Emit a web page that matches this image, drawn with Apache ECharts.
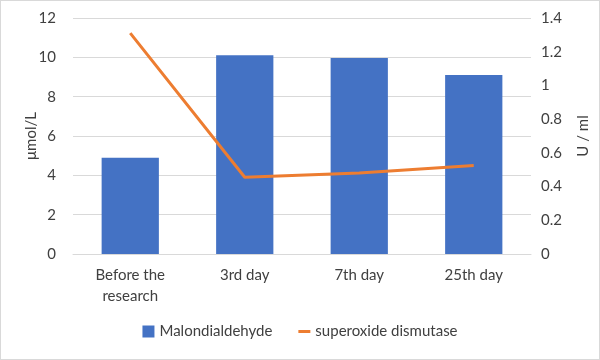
<!DOCTYPE html>
<html><head><meta charset="utf-8">
<script src="https://cdn.jsdelivr.net/npm/echarts@6/dist/echarts.min.js"></script>
<style>html,body{margin:0;padding:0;background:#fff}#c{width:598px;height:358px;border:1px solid #d9d9d9}</style>
</head><body><div id="c"></div>
<script>
var categories = ['Before the\nresearch', '3rd day', '7th day', '25th day'];
var malondialdehyde = [4.9, 10.1, 9.97, 9.1];
var superoxideDismutase = [1.31, 0.455, 0.48, 0.525];
var leftTicks = [0, 2, 4, 6, 8, 10, 12];
var rightTicks = [0, 0.2, 0.4, 0.6, 0.8, 1, 1.2, 1.4];
var font = 'Lato, "Open Sans", sans-serif';
var fs = 15;
var chart = echarts.init(document.getElementById('c'));
chart.setOption({
  animation: false,
  textStyle: {fontFamily: font},
  legend: {
    bottom: 15, itemGap: 26, itemWidth: 12, itemHeight: 12,
    textStyle: {fontSize: fs, color: '#404040', fontFamily: font},
    data: [{name: 'Malondialdehyde', icon: 'rect'},
           {name: 'superoxide dismutase', icon: 'path://M0,0h12v3h-12z'}]
  },
  grid: {left: 72, right: 68, top: 17, bottom: 105},
  xAxis: {
    type: 'category', data: categories,
    axisLine: {lineStyle: {color: '#d9d9d9'}}, axisTick: {show: false},
    axisLabel: {fontSize: fs, color: '#404040', margin: 11, lineHeight: 21, fontFamily: font}
  },
  yAxis: [{
    type: 'value', min: 0, max: 12, interval: 2,
    name: 'μmol/L', nameLocation: 'middle', nameGap: 34, nameRotate: 90, nameMoveOverlap: false,
    nameTextStyle: {fontSize: fs, color: '#404040', fontFamily: font},
    axisLabel: {fontSize: fs, color: '#404040', margin: 17, fontFamily: font},
    splitLine: {lineStyle: {color: '#d9d9d9'}},
    axisLine: {show: false}, axisTick: {show: false}
  }, {
    type: 'value', min: 0, max: 1.4, interval: 0.2,
    name: 'U / ml', nameLocation: 'middle', nameGap: 45, nameRotate: 90, nameMoveOverlap: false,
    nameTextStyle: {fontSize: fs, color: '#404040', fontFamily: font},
    axisLabel: {fontSize: fs, color: '#404040', margin: 10, fontFamily: font},
    splitLine: {show: false}, axisLine: {show: false}, axisTick: {show: false}
  }],
  series: [{
    name: 'Malondialdehyde', type: 'bar', data: malondialdehyde, barWidth: '50%',
    itemStyle: {color: '#4472C4'}
  }, {
    name: 'superoxide dismutase', type: 'line', yAxisIndex: 1, data: superoxideDismutase,
    symbol: 'none', lineStyle: {color: '#ED7D31', width: 3}, itemStyle: {color: '#ED7D31'}
  }]
});
</script></body></html>
